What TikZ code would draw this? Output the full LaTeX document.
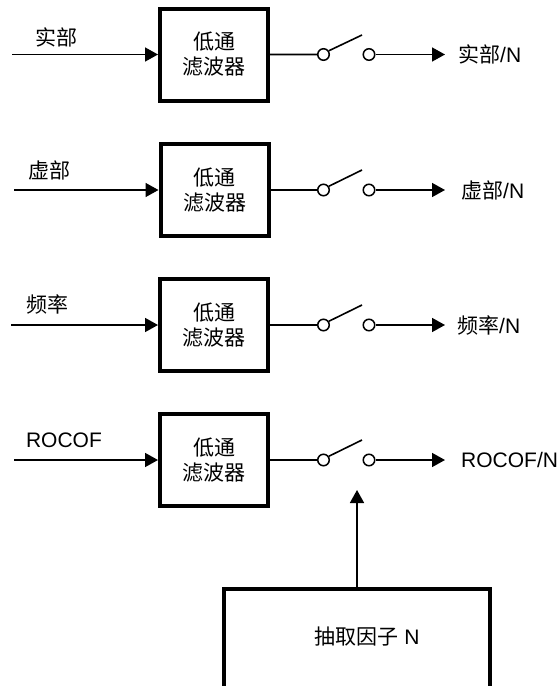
\documentclass[tikz,border=0pt]{standalone}
\usepackage{fontspec}
\setmainfont{Liberation Sans}
\newfontfamily\cjk{Noto Sans CJK SC}
\usetikzlibrary{positioning,arrows.meta}

\begin{document}
\begin{tikzpicture}[x=1pt,y=-1pt,
      filt/.style={draw, line width=4pt, minimum width=108pt, minimum height=92pt,
                   align=center, inner sep=0pt, font=\cjk\fontsize{21}{25}\selectfont},
      lbl/.style={inner sep=0pt, font=\fontsize{21}{25}\selectfont},
      cjklbl/.style={inner sep=0pt, font=\cjk\fontsize{21}{25}\selectfont},
      pin/.style={draw, circle, line width=1.5pt, minimum size=11.5pt, inner sep=0pt},
      wire/.style={line width=1.6pt},
      arr/.style={line width=1.6pt, -{Triangle[length=13pt,width=14pt]}}]
    \useasboundingbox (0,0) rectangle (558,686);
    \clip (0,0) rectangle (558,686);

    % filters
    \node[filt] (f1) at (214,54.5)  {低通\\滤波器};
    \node[filt] (f2) at (214.5,190) {低通\\滤波器};
    \node[filt] (f3) at (214,325)   {低通\\滤波器};
    \node[filt] (f4) at (214,460)   {低通\\滤波器};

    % inputs
    \coordinate (i1) at (12,54.5);
    \coordinate (i2) at (14,190);
    \coordinate (i3) at (11,325);
    \coordinate (i4) at (14,460);
    \node[cjklbl] (t1) at (56,37)  {实部};
    \node[cjklbl] (t2) at (49,170) {虚部};
    \node[cjklbl] (t3) at (48,304) {频率};
    \node[lbl]    (t4) at (64,440) {ROCOF};
    \draw[arr] (i1) -- (f1);
    \draw[arr] (i2) -- (f2);
    \draw[arr] (i3) -- (f3);
    \draw[arr] (i4) -- (f4);

    % switches
    \node[pin] (a1) at (323.5,54.5) {};
    \node[pin] (b1) at (369,54.5)   {};
    \node[pin] (a2) at (323.5,190)  {};
    \node[pin] (b2) at (369,190)    {};
    \node[pin] (a3) at (323.5,325)  {};
    \node[pin] (b3) at (369,325)    {};
    \node[pin] (a4) at (323.5,460)  {};
    \node[pin] (b4) at (369,460)    {};
    \coordinate (k1) at (362,35);
    \coordinate (k2) at (362,170);
    \coordinate (k3) at (362,305);
    \coordinate (k4) at (362,440);
    \draw[wire] (f1) -- (a1) (a1.35) -- (k1);
    \draw[wire] (f2) -- (a2) (a2.35) -- (k2);
    \draw[wire] (f3) -- (a3) (a3.35) -- (k3);
    \draw[wire] (f4) -- (a4) (a4.35) -- (k4);

    % outputs
    \coordinate (o1) at (445,54.5);
    \coordinate (o2) at (445,190);
    \coordinate (o3) at (445,325);
    \coordinate (o4) at (445,460);
    \draw[arr] (b1) -- (o1);
    \draw[arr] (b2) -- (o2);
    \draw[arr] (b3) -- (o3);
    \draw[arr] (b4) -- (o4);
    \node[lbl, anchor=west] (r1) at (458,54.5) {{\cjk 实部}/N};
    \node[lbl, anchor=west] (r2) at (461,190)  {{\cjk 虚部}/N};
    \node[lbl, anchor=west] (r3) at (457,325)  {{\cjk 频率}/N};
    \node[lbl, anchor=west] (r4) at (461,460)  {ROCOF/N};

    % decimation
    \node[draw, line width=4pt, minimum width=266pt, minimum height=112pt] (dec) at (357,645) {};
    \node[lbl] (dect) at (367,637) {{\cjk 抽取因子} N};
    \coordinate (g) at (357,490);
    \draw[arr] (dec.north) -- (g);
  \end{tikzpicture}
\end{document}
